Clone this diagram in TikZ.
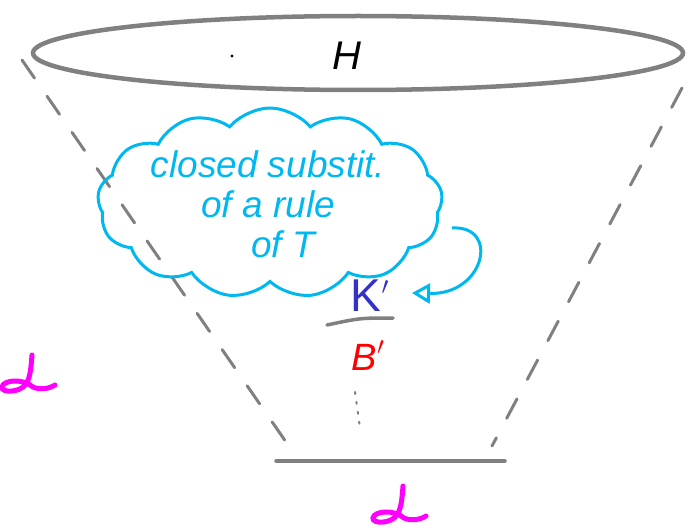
\documentclass[tikz,border=0pt]{standalone}
\usepackage{fontspec}
\setmainfont{Liberation Sans}
\usetikzlibrary{shapes.symbols,shapes.geometric,arrows.meta}
\definecolor{cone}{RGB}{128,128,128}
\definecolor{sky}{RGB}{0,184,240}
\definecolor{kblue}{RGB}{50,50,200}
\definecolor{mag}{RGB}{255,0,255}
\tikzset{
  conegray/.style={draw=cone,line width=4.5pt,line cap=round},
  conedash/.style={cone,line width=3pt,line cap=round,dash pattern=on 22pt off 22pt},
  skytext/.style={text=sky,font=\fontsize{37}{44}\selectfont\itshape,align=center},
  alphasym/.pic={\draw[mag,line width=5pt,line cap=round]
    (3,-29) .. controls (2,-15) and (1,-6) .. (-3,0) .. controls (-9,9) and (-28,9) .. (-27,3)
    .. controls (-26,-4) and (-6,-6) .. (4,3) .. controls (10,6) and (20,5) .. (26,1);}
}
\begin{document}
\begin{tikzpicture}[x=1pt,y=-1pt]
\useasboundingbox (0,0) rectangle (697,532);
% top ellipse
\node[conegray,ellipse,minimum width=650pt,minimum height=74pt,inner sep=0pt] (top) at (358,53) {};
\node[font=\fontsize{40}{44}\selectfont\itshape] (H) at (347,56) {H};
\node[circle,fill=black,inner sep=1.2pt] (dot) at (232,56) {};
% cone sides
\coordinate (tl) at (22,60);
\coordinate (bl) at (295,455);
\coordinate (tr) at (682,88);
\coordinate (br) at (492,446);
\draw[conedash] (tl) -- (bl);
\draw[conedash] (tr) -- (br);
\coordinate (b1) at (276,461);
\coordinate (b2) at (505,461);
\draw[conegray,line width=3.5pt] (b1) -- (b2);
% cloud
\node[cloud,draw=sky,line width=3pt,cloud puffs=13,cloud puff arc=100,aspect=1.75,minimum width=345pt,minimum height=190pt,inner sep=0pt] (cloud) at (270,203) {};
\node[skytext] (txt) at (268,204) {closed substit.\\[-4pt]of a rule\\[-4pt]\hspace*{30pt}of T};
% K'
\node[text=kblue,font=\fontsize{46}{50}\selectfont] (K) at (370,296) {K\raisebox{8pt}{$'$}};
\coordinate (l1) at (327,325);
\coordinate (l2) at (393,318);
\draw[conegray,line width=3.5pt] (l1) .. controls (360,318) .. (l2);
\node[text=red,font=\fontsize{38}{40}\selectfont\itshape] (B) at (368,356) {B\raisebox{7pt}{$'$}};
\coordinate (d1) at (355,392);
\coordinate (d2) at (360,428);
\draw[cone,line width=2pt,line cap=round,dash pattern=on 2pt off 8pt] (d1) -- (d2);
% curved arrow
\coordinate (a1) at (452,228);
\coordinate (a2) at (412,293);
\draw[sky,line width=3pt,-{Triangle[open,length=18pt,width=20pt]}] (a1) .. controls (500,225) and (485,295) .. (a2);
% alphas
\pic at (29,384) {alphasym};
\pic at (400,515) {alphasym};
\end{tikzpicture}
\end{document}
